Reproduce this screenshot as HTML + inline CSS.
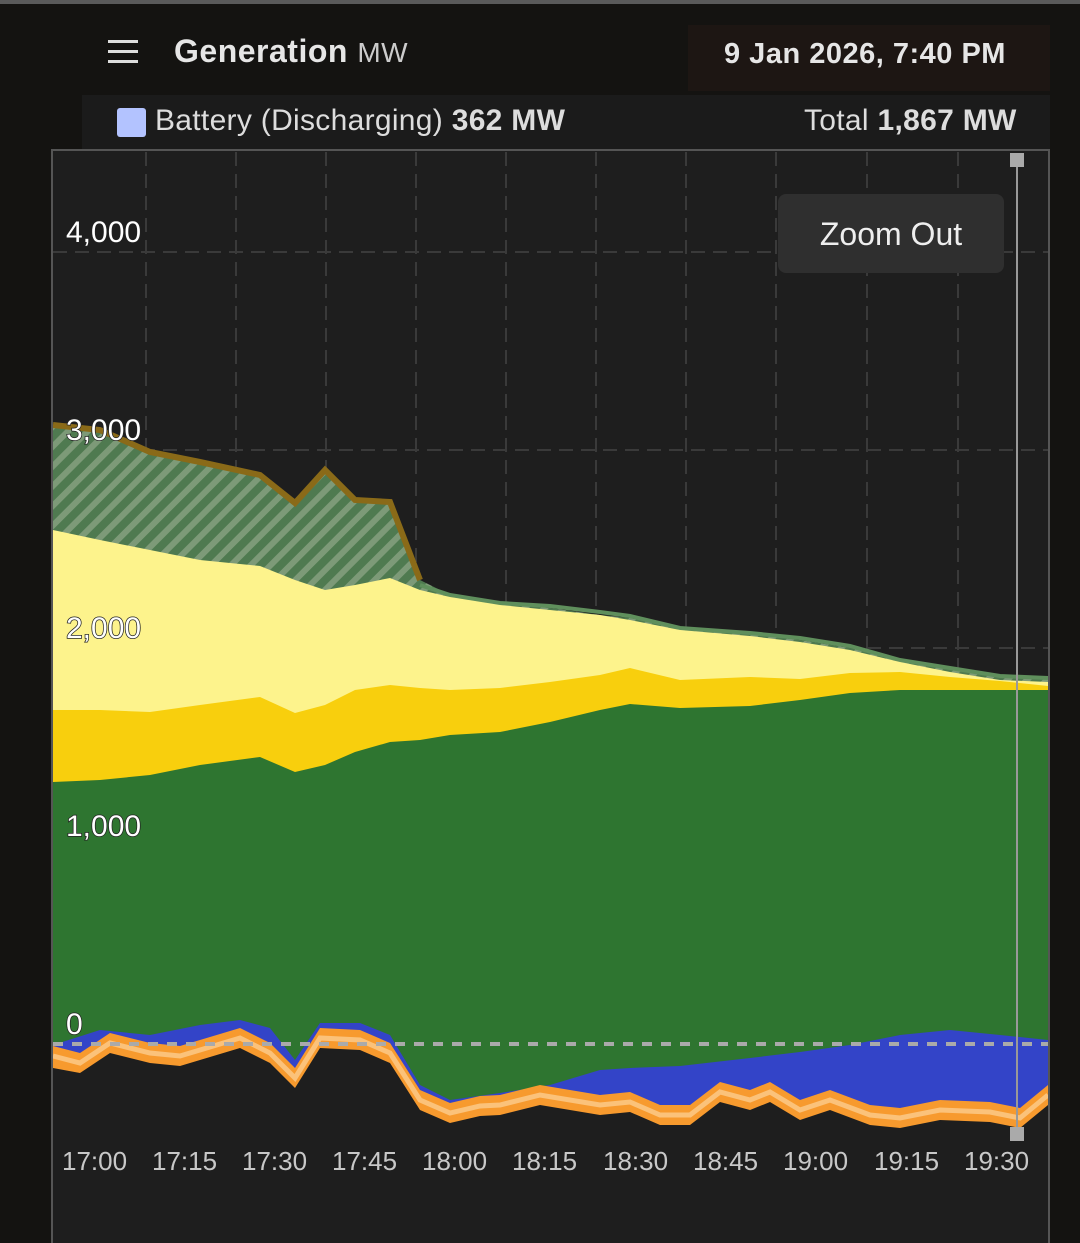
<!DOCTYPE html>
<html><head><meta charset="utf-8"><style>
html,body{margin:0;padding:0;background:#141311;}
body{width:1080px;height:1243px;position:relative;overflow:hidden;font-family:"Liberation Sans",sans-serif;}
.t{position:absolute;white-space:nowrap}
</style></head><body>
<div style="position:absolute;left:0;top:0;width:1080px;height:4px;background:#5a5a5a"></div>
<div style="position:absolute;left:108px;top:40px;width:30px;height:3px;background:#ddd;box-shadow:0 10px 0 #ddd,0 20px 0 #ddd"></div>
<div class="t" style="left:174px;top:33px;font-size:32px;color:#e6e6e6;font-weight:bold;letter-spacing:0.5px">Generation <span style="font-weight:normal;font-size:28px;color:#ccc">MW</span></div>
<div style="position:absolute;left:688px;top:25px;width:362px;height:66px;background:#1d1613"></div>
<div class="t" style="left:724px;top:38px;font-size:29px;color:#e6e6e6;font-weight:bold;letter-spacing:0.5px">9 Jan 2026, 7:40 PM</div>
<div style="position:absolute;left:82px;top:95px;width:968px;height:56px;background:#1b1b1b"></div>
<div style="position:absolute;left:117px;top:108px;width:29px;height:29px;background:#b3c3ff;border-radius:3px"></div>
<div class="t" style="left:155px;top:104px;font-size:30px;color:#ddd;letter-spacing:0.3px">Battery (Discharging) <b>362 MW</b></div>
<div class="t" style="left:804px;top:104px;font-size:30px;color:#ddd;letter-spacing:0.3px">Total <b>1,867 MW</b></div>
<svg width="1080" height="1243" style="position:absolute;left:0;top:0">
<defs>
<pattern id="h" width="14" height="14" patternUnits="userSpaceOnUse" patternTransform="rotate(45)">
<rect width="14" height="14" fill="#4f7a50"/><rect width="6" height="14" fill="#7d9a78"/></pattern>
</defs>
<rect x="53" y="150" width="995" height="1093" fill="#1e1e1e"/>
<g stroke="#3a3a3a" stroke-width="2" stroke-dasharray="14,8">
<line x1="146" y1="152" x2="146" y2="1243"/><line x1="236" y1="152" x2="236" y2="1243"/><line x1="326" y1="152" x2="326" y2="1243"/><line x1="416" y1="152" x2="416" y2="1243"/><line x1="506" y1="152" x2="506" y2="1243"/><line x1="596" y1="152" x2="596" y2="1243"/><line x1="686" y1="152" x2="686" y2="1243"/><line x1="776" y1="152" x2="776" y2="1243"/><line x1="867" y1="152" x2="867" y2="1243"/><line x1="958" y1="152" x2="958" y2="1243"/>
<line x1="53" y1="252" x2="1048" y2="252"/><line x1="53" y1="450" x2="1048" y2="450"/><line x1="53" y1="648" x2="1048" y2="648"/><line x1="53" y1="846" x2="1048" y2="846"/>
</g>
<path d="M53,425 L100,430 150,452 200,462 260,475 295,503 325,470 355,500 390,502 420,580 450,595 500,603 550,608 600,615 630,618 680,628 750,634 800,640 850,648 900,660 950,668 1000,677 1048,678 L1048,1243 53,1243Z" fill="url(#h)"/>
<path d="M420,585 L450,595 500,603 550,606 600,612 630,616 680,628 750,633 800,638 850,646 900,660 950,668 1000,676 1048,678" fill="none" stroke="#5f8f5c" stroke-width="4"/>
<path d="M53,425 L100,430 150,452 200,462 260,475 295,503 325,470 355,500 390,502 420,580" fill="none" stroke="#8a6a18" stroke-width="6"/>
<path d="M53,530 L100,540 150,550 200,560 260,566 295,580 325,590 355,585 390,578 420,590 450,597 500,605 550,610 600,615 630,620 680,630 750,636 800,642 850,650 900,662 950,672 1000,680 1048,682 L1048,1243 53,1243Z" fill="#fdf38c"/>
<path d="M53,710 L100,710 150,712 200,705 260,697 295,713 325,705 355,690 390,685 420,688 450,690 500,688 550,682 600,675 630,668 680,680 750,677 800,679 850,673 900,672 950,677 1000,681 1048,686 L1048,1243 53,1243Z" fill="#f8cf0d"/>
<path d="M53,782 L100,780 150,775 200,765 260,757 295,772 325,765 355,752 390,742 420,740 450,735 500,732 550,722 600,710 630,704 680,708 750,706 800,700 850,693 900,690 950,690 1000,690 1048,690 L1048,1243 53,1243Z" fill="#2e7530"/>
<path d="M53,1045 L100,1030 150,1035 200,1025 240,1020 270,1028 295,1060 320,1023 360,1023 390,1035 420,1085 450,1100 500,1093 550,1085 600,1070 630,1068 680,1066 750,1058 800,1052 850,1045 900,1035 950,1030 1000,1035 1048,1040 L1048,1243 53,1243Z" fill="#3344c8"/>
<path d="M53,1060 L80,1065 90,1080 53,1080Z M330,1045 L360,1048 390,1055 400,1080 330,1080Z" fill="#a070e0"/>
<path d="M53,1046 L80,1053 110,1033 150,1043 180,1046 240,1028 270,1043 295,1068 320,1028 360,1030 390,1043 420,1090 450,1103 480,1096 500,1095 540,1085 600,1095 630,1092 660,1105 690,1105 720,1082 750,1090 770,1082 800,1100 830,1090 870,1105 900,1108 940,1100 990,1102 1020,1108 1048,1085 L1048,1243 53,1243Z" fill="#f79a2e"/>
<path d="M53,1056 L80,1063 110,1043 150,1053 180,1056 240,1038 270,1053 295,1078 320,1038 360,1040 390,1053 420,1100 450,1113 480,1106 500,1105 540,1095 600,1105 630,1102 660,1115 690,1115 720,1092 750,1100 770,1092 800,1110 830,1100 870,1115 900,1118 940,1110 990,1112 1020,1118 1048,1095" fill="none" stroke="#fbc27a" stroke-width="5"/>
<path d="M53,1068 L80,1073 110,1053 150,1063 180,1066 240,1048 270,1063 295,1088 320,1048 360,1050 390,1063 420,1110 450,1123 480,1116 500,1115 540,1105 600,1115 630,1112 660,1125 690,1125 720,1102 750,1110 770,1102 800,1120 830,1110 870,1125 900,1128 940,1120 990,1122 1020,1128 1048,1105 L1048,1243 53,1243Z" fill="#1e1e1e"/>
<line x1="53" y1="1044" x2="1048" y2="1044" stroke="#aaa" stroke-width="4" stroke-dasharray="10,9"/>
<rect x="52" y="150" width="997" height="1095" fill="none" stroke="#555" stroke-width="2"/>
<line x1="1017" y1="160" x2="1017" y2="1135" stroke="#999" stroke-width="2"/>
<rect x="1010" y="153" width="14" height="14" fill="#aaa"/><rect x="1010" y="1127" width="14" height="14" fill="#aaa"/>
<g font-family="Liberation Sans,sans-serif" font-size="30" fill="#fff" stroke="#222" stroke-width="1.5" paint-order="stroke">
<text x="66" y="242">4,000</text><text x="66" y="440">3,000</text><text x="66" y="638">2,000</text><text x="66" y="836">1,000</text><text x="66" y="1034">0</text>
</g>
<g font-family="Liberation Sans,sans-serif" font-size="26" fill="#c8c8c8">
<text x="62" y="1170">17:00</text><text x="152" y="1170">17:15</text><text x="242" y="1170">17:30</text><text x="332" y="1170">17:45</text><text x="422" y="1170">18:00</text><text x="512" y="1170">18:15</text><text x="603" y="1170">18:30</text><text x="693" y="1170">18:45</text><text x="783" y="1170">19:00</text><text x="874" y="1170">19:15</text><text x="964" y="1170">19:30</text>
</g>
<rect x="778" y="194" width="226" height="79" rx="8" fill="#2f2f2f"/>
<text x="891" y="245" text-anchor="middle" font-family="Liberation Sans,sans-serif" font-size="32" fill="#eee">Zoom Out</text>
</svg>
</body></html>
